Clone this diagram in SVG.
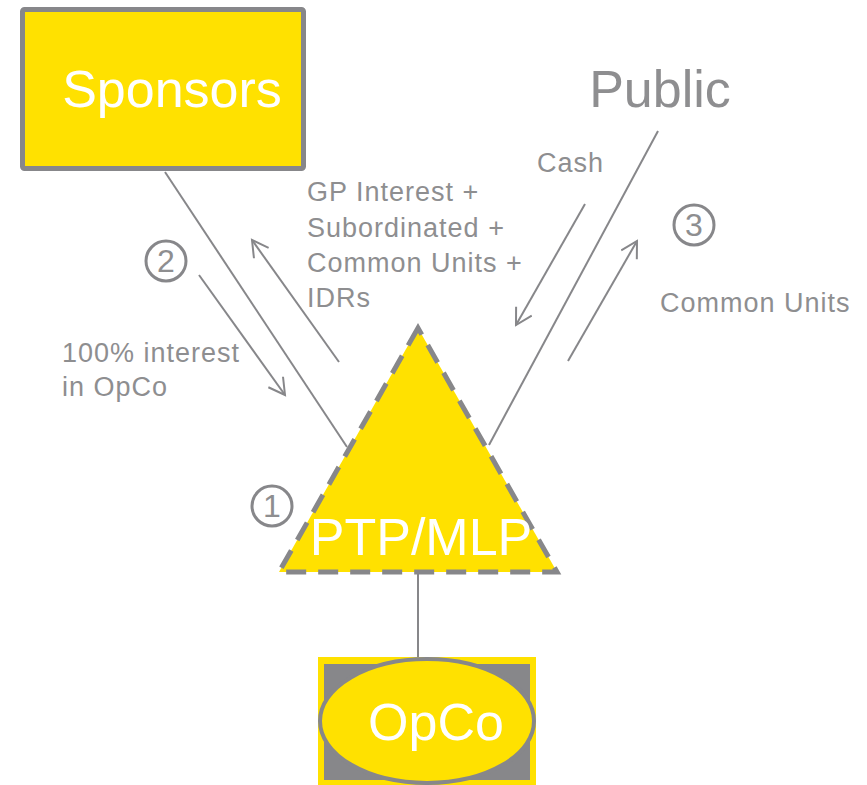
<svg xmlns="http://www.w3.org/2000/svg" width="867" height="785" viewBox="0 0 867 785">
<style>
.big{font-family:"Liberation Sans",Arial,sans-serif;font-size:52px;fill:#ffffff}
.lbl{font-family:"Liberation Sans",Arial,sans-serif;font-size:27px;letter-spacing:1px;fill:#8e8e90}
.num{font-family:"Liberation Sans",Arial,sans-serif;font-size:32px;fill:#8e8e90;text-anchor:middle}
.conn{stroke:#87878a;stroke-width:2;fill:none}
.circ{fill:none;stroke:#87878a;stroke-width:3}
</style>
<defs>
<marker id="arr" viewBox="0 0 20 20" refX="17" refY="10" markerWidth="20" markerHeight="20" markerUnits="userSpaceOnUse" orient="auto">
<path d="M1,1 L17,10 L1,19" fill="none" stroke="#87878a" stroke-width="2"/>
</marker>
</defs>
<rect width="867" height="785" fill="#ffffff"/>
<g id="connectors">
<line class="conn" x1="165" y1="172" x2="347" y2="447"/>
<line class="conn" x1="658" y1="131" x2="489" y2="445"/>
<line class="conn" x1="418" y1="573" x2="418" y2="660" stroke-width="3"/>
<line class="conn" x1="199" y1="275" x2="285" y2="395" marker-end="url(#arr)"/>
<line class="conn" x1="339" y1="362" x2="252" y2="240" marker-end="url(#arr)"/>
<line class="conn" x1="585" y1="204" x2="516" y2="325" marker-end="url(#arr)"/>
<line class="conn" x1="568" y1="361" x2="637" y2="241" marker-end="url(#arr)"/>
</g>
<g id="sponsors">
<rect x="22.5" y="9.5" width="281" height="159" rx="2" fill="#ffe100" stroke="#87878a" stroke-width="5"/>
<text class="big" x="172" y="107" text-anchor="middle">Sponsors</text>
</g>
<g id="public">
<text class="big" x="660" y="107" text-anchor="middle" style="fill:#8e8e90">Public</text>
</g>
<g id="ptp-mlp">
<polygon points="418,328 279,572 557,572" fill="#ffe100" stroke="#87878a" stroke-width="5" stroke-dasharray="20 12"/>
<text class="big" x="421" y="555" text-anchor="middle">PTP/MLP</text>
</g>
<g id="opco">
<rect x="318" y="657" width="218" height="130" fill="#ffe100"/>
<rect x="324" y="664" width="206" height="116" fill="#87878a"/>
<ellipse cx="427" cy="721" rx="107" ry="62" fill="#ffe100" stroke="#87878a" stroke-width="4"/>
<text class="big" x="436" y="740" text-anchor="middle">OpCo</text>
</g>
<g id="labels">
<text class="lbl" x="307" y="201">GP Interest +</text>
<text class="lbl" x="307" y="237">Subordinated +</text>
<text class="lbl" x="307" y="272">Common Units +</text>
<text class="lbl" x="307" y="307">IDRs</text>
<text class="lbl" x="537" y="172">Cash</text>
<text class="lbl" x="660" y="312">Common Units</text>
<text class="lbl" x="62" y="362">100% interest</text>
<text class="lbl" x="62" y="396">in OpCo</text>
</g>
<g id="step1">
<circle class="circ" cx="272" cy="506" r="20"/>
<text class="num" x="272" y="517">1</text>
</g>
<g id="step2">
<circle class="circ" cx="166" cy="261" r="20"/>
<text class="num" x="166" y="272">2</text>
</g>
<g id="step3">
<circle class="circ" cx="694" cy="225" r="20"/>
<text class="num" x="694" y="236">3</text>
</g>
</svg>
